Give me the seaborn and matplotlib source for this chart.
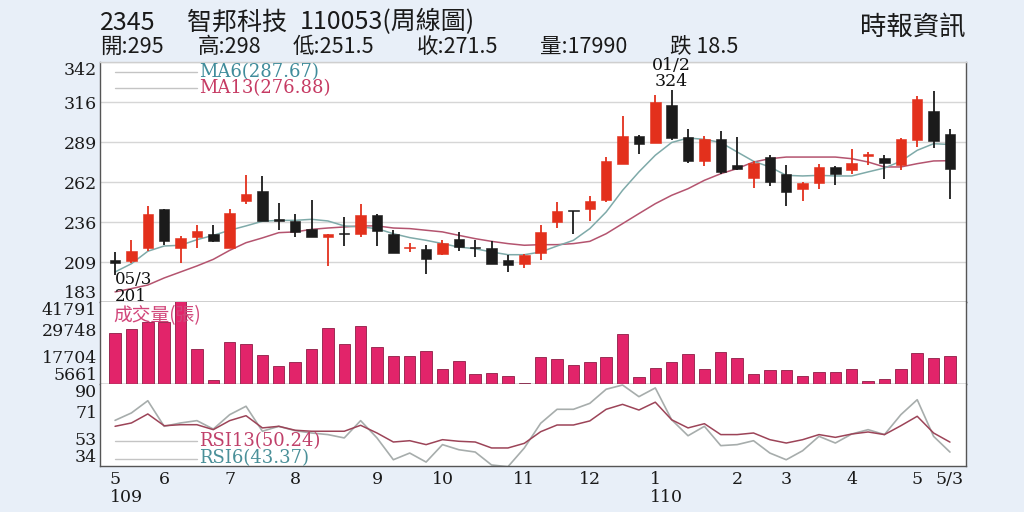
import numpy as np
import pandas as pd
import matplotlib
matplotlib.use("Agg")
import matplotlib.pyplot as plt
import seaborn as sns
from matplotlib.lines import Line2D

# ---------------- data (weekly, 109/05 .. 110/05/03) ----------------
weeks = list(range(52))
opens = [211, 210, 219, 244.5, 219, 226, 228, 219, 250, 256.5,
         237.2, 236.7, 231.6, 226, 228.5, 227.8, 241, 228.2, 218.7, 217.8,
         214.5, 224.5, 218.9, 218.7, 211, 208, 215.6, 236, 243.4, 244.5,
         251, 274.5, 293.6, 289, 313.8, 293, 277, 291.6, 273.8, 265.4,
         279.3, 267.8, 258.2, 262.2, 273, 270.5, 280.3, 279, 273.8, 290.5,
         310, 295]
highs = [216, 224, 247, 245, 226.5, 234, 234, 245, 267.6, 266.7,
         249, 241.6, 251, 228, 239.4, 248, 241.6, 231, 222, 220.5,
         224.2, 229.4, 224, 223.4, 214, 214.5, 233.8, 249.4, 243.6, 253.4,
         279.3, 306.5, 293.8, 320.5, 324, 297.8, 293.1, 297, 293, 276.5,
         280.5, 273.8, 263, 274.5, 273.3, 284.5, 283, 280.5, 292, 320,
         323.4, 298]
lows = [201, 209, 217, 221, 209, 219, 223, 219, 248, 236.5,
        231, 226, 226, 206.7, 220, 226, 219.8, 215.6, 216, 201.6,
        214, 216.5, 212.7, 208, 202.7, 205.6, 211, 232, 227.8, 237,
        249.4, 274.5, 281.6, 289, 290.5, 275.6, 273.4, 268, 270.5, 259,
        260, 246.5, 250, 258, 261, 267.8, 274, 264.5, 270.5, 286,
        285.6, 251.5]
closes = [209, 216.7, 241.4, 223.4, 225.6, 230, 223.5, 242, 255, 236.7,
          237, 229.4, 226, 227.8, 228, 241, 229.8, 215.6, 219, 211.6,
          222.2, 219.4, 218.5, 208.2, 207.6, 214.2, 229.4, 243.4, 243.2, 249.8,
          277, 293.6, 287.8, 316, 292, 277, 291.6, 269.4, 271.6, 275.6,
          262.7, 256, 262.2, 273, 268.2, 275.6, 280.7, 275.6, 291.6, 318.2,
          290, 271.5]
volumes = [28400, 30150, 33070, 33070, 43000, 20970, 7560, 24320, 23300, 18490,
           13680, 15570, 20970, 30300, 23300, 31320, 22130, 18050, 17900, 20090,
           12510, 16010, 10330, 10760, 9300, 6100, 17470, 16590, 13970, 15570,
           17760, 27530, 9010, 12660, 15570, 18930, 12370, 19950, 17320, 10040,
           11930, 11930, 9300, 10910, 11200, 12370, 6970, 8140, 12220, 19220,
           17180, 17990]
ma6 = [202.7, 208.2, 216.5, 220, 220.5, 224.2, 227.1, 230.5, 233.4, 236.5,
       237.1, 237.1, 237.8, 236.7, 233.4, 232.7, 231.6, 228.2, 225.6, 223.8,
       221.6, 219.3, 218.2, 216, 214.2, 214.2, 216, 220, 223.8, 231.6,
       242.7, 257.1, 269.4, 280.5, 289, 292, 291.1, 289, 282.7, 276.5,
       272.7, 267.1, 266.7, 267.1, 266.7, 266.7, 269.4, 272, 276.5, 283.8,
       288.2, 287.67]
ma13 = [189.4, 191.6, 194, 198.7, 202.7, 206.7, 211.1, 217.1, 222.2, 225.4,
        228.9, 229.4, 231.1, 232, 232.7, 233.4, 233.4, 232, 231.6, 230.5,
        229.4, 227.1, 224.9, 223.1, 221.6, 220.5, 220.9, 220.9, 221.6, 223.1,
        228.2, 234.9, 241.6, 248.2, 253.8, 258.2, 263.8, 268.2, 271.6, 276,
        278.2, 279.3, 279.3, 279.3, 279.3, 278.2, 276, 272.7, 272.7, 274.9,
        276.7, 276.88]
rsi6 = [65.2, 70.3, 78.7, 61.1, 63.4, 65, 59.2, 69.1, 74.9, 57.7,
        61.1, 58.1, 56.5, 55.4, 53.1, 65, 53.1, 38.1, 42.7, 36.5,
        48.5, 45, 43.4, 34.5, 33.3, 46.2, 63.2, 72.8, 72.8, 76.9,
        86.6, 89.5, 81.5, 87.5, 65.6, 54.6, 61.1, 47.8, 48.5, 51.2,
        42.7, 38.1, 44.3, 54.2, 49.6, 55.8, 58.8, 55.4, 69.1, 79.4,
        54.2, 43.37]
rsi13 = [61.1, 63.4, 69.6, 61.5, 62.2, 62.2, 58.8, 65, 68.4, 60,
         61.1, 58.4, 57.7, 57.7, 57.7, 61.8, 56.5, 50.3, 51.2, 48.5,
         51.9, 50.8, 50.3, 46.2, 46.2, 49.4, 57.4, 62, 62, 64.8,
         72.8, 76.2, 72.3, 77.7, 65.6, 60, 62.9, 55.4, 55.4, 56.5,
         51.9, 49.6, 51.9, 55.4, 53.5, 55.8, 57.2, 55.4, 61.5, 68,
         56.5, 50.24]

price_ticks = [182.67, 209.33, 236, 262.67, 289.33, 316, 342.67]
price_labels = ['183', '209', '236', '262', '289', '316', '342']
vol_ticks = [5661, 17704, 29748, 41791]
vol_labels = ['5661', '17704', '29748', '41791']
rsi_ticks = [34, 52.67, 71.33, 90]
rsi_labels = ['34', '53', '71', '90']
month_pos = [0, 3, 7, 11, 16, 20, 25, 29, 33, 38, 41, 45, 49, 51]
month_labels = ['5', '6', '7', '8', '9', '10', '11', '12', '1', '2', '3', '4', '5', '5/3']

# ---------------- style ----------------
sns.set_style("white")
plt.rcParams['font.family'] = ['DejaVu Serif']
CJK = ['Noto Sans CJK TC', 'DejaVu Sans']

BG = '#e8eff8'
UP = '#e3301c'
DOWN = '#1b1b1b'
VOLC = '#e2246a'
MA6C = '#7faaa9'
MA13C = '#b4546f'
RSI6C = '#a7adac'
RSI13C = '#9c4458'
FRAME = '#555555'

W, H = 1024, 512
fig = plt.figure(figsize=(W / 100, H / 100), dpi=100, facecolor=BG)


def fx(x):
    return x / W


def fy(y):
    return 1 - y / H


L, R = 100, 966
ax_p = fig.add_axes([fx(L), fy(302), (R - L) / W, (302 - 62) / H])
ax_v = fig.add_axes([fx(L), fy(384.3), (R - L) / W, (384.3 - 302) / H], sharex=ax_p)
ax_r = fig.add_axes([fx(L), fy(465.7), (R - L) / W, (465.7 - 384.3) / H], sharex=ax_p)

df = pd.DataFrame(dict(week=weeks, open=opens, high=highs, low=lows, close=closes,
                       vol=volumes, ma6=ma6, ma13=ma13, rsi6=rsi6, rsi13=rsi13))

# ---------------- price panel ----------------
up = df['close'] >= df['open']
cols = np.where(up, UP, DOWN)
body_lo = np.minimum(df['open'], df['close'])
body_h = np.maximum((df['close'] - df['open']).abs(), 0.9)

sns.lineplot(data=df, x='week', y='ma13', ax=ax_p, color=MA13C, lw=1.1, zorder=2)
sns.lineplot(data=df, x='week', y='ma6', ax=ax_p, color=MA6C, lw=1.1, zorder=2)
ax_p.vlines(df['week'], df['low'], df['high'], colors=cols, lw=1.3, zorder=3)
ax_p.bar(df['week'], body_h, bottom=body_lo, width=0.64, color=cols,
         edgecolor=cols, lw=0.4, zorder=4)

ax_p.set_ylim(price_ticks[0], price_ticks[-1])
ax_p.set_yticks(price_ticks)
ax_p.set_yticklabels(price_labels)
ax_p.grid(axis='y', color='#d6d6d6', lw=1.0)
ax_p.set_axisbelow(True)

# ---------------- volume panel ----------------
sns.barplot(data=df, x='week', y='vol', native_scale=True, color=VOLC,
            saturation=1, errorbar=None, width=0.7, edgecolor='#8e1d45',
            linewidth=0.6, ax=ax_v)
ax_v.set_ylim(vol_ticks[0], vol_ticks[-1])
ax_v.set_yticks(vol_ticks)
ax_v.set_yticklabels(vol_labels)

# ---------------- RSI panel ----------------
sns.lineplot(data=df, x='week', y='rsi6', ax=ax_r, color=RSI6C, lw=1.2)
sns.lineplot(data=df, x='week', y='rsi13', ax=ax_r, color=RSI13C, lw=1.1)
ax_r.set_ylim(rsi_ticks[0], rsi_ticks[-1])
ax_r.set_yticks(rsi_ticks)
ax_r.set_yticklabels(rsi_labels)

# ---------------- shared formatting ----------------
for ax in (ax_p, ax_v, ax_r):
    ax.set_facecolor('white')
    ax.set_xlabel('')
    ax.set_ylabel('')
    ax.tick_params(axis='y', length=0, pad=2, labelsize=12.5, labelcolor='#1a1a1a')
    for s in ax.spines.values():
        s.set_color(FRAME)
        s.set_linewidth(1.0)
    labs = ax.get_yticklabels()
    labs[0].set_verticalalignment('bottom')
    labs[-1].set_verticalalignment('top')

ax_p.spines['top'].set_color('#cfcfcf')
ax_v.spines['top'].set_visible(False)
ax_r.spines['top'].set_visible(False)
ax_p.spines['bottom'].set_color('#333333')

ax_r.set_xlim(-0.92, 51.98)
ax_r.set_xticks(month_pos)
ax_r.set_xticklabels(month_labels)
ax_r.set_xticks(weeks, minor=True)
ax_r.tick_params(axis='x', which='both', direction='in', length=3, color='#777777',
                 labelsize=12.5, pad=4, labelcolor='#1a1a1a')
ax_p.tick_params(axis='x', which='both', labelbottom=False, length=0)
ax_v.tick_params(axis='x', which='both', labelbottom=False, length=0)

# ---------------- annotations ----------------
SERIF = 'DejaVu Serif'
fig.text(fx(110), fy(497), '109', ha='left', va='center', fontsize=12.5, family=SERIF, color='#1a1a1a')
fig.text(fx(650), fy(497), '110', ha='left', va='center', fontsize=12.5, family=SERIF, color='#1a1a1a')

for yy in (71.7, 88.3, 441.3, 458.7):
    fig.add_artist(Line2D([fx(115), fx(197)], [fy(yy), fy(yy)], color='#c4c4c4', lw=1.0))

fig.text(fx(199), fy(72), 'MA6(287.67)', ha='left', va='center', fontsize=13, family=SERIF, color='#3f8c9b')
fig.text(fx(199), fy(88), 'MA13(276.88)', ha='left', va='center', fontsize=13, family=SERIF, color='#c63a63')
fig.text(fx(199), fy(441), 'RSI13(50.24)', ha='left', va='center', fontsize=13, family=SERIF, color='#c0406a')
fig.text(fx(199), fy(458), 'RSI6(43.37)', ha='left', va='center', fontsize=13, family=SERIF, color='#4a9099')

fig.text(fx(671), fy(65), '01/2', ha='center', va='center', fontsize=12.5, family=SERIF, color='#111111')
fig.text(fx(671), fy(82), '324', ha='center', va='center', fontsize=12.5, family=SERIF, color='#111111')
fig.text(fx(115), fy(280), '05/3', ha='left', va='center', fontsize=12, family=SERIF, color='#111111')
fig.text(fx(115), fy(296.5), '201', ha='left', va='center', fontsize=12, family=SERIF, color='#111111')

fig.text(fx(113), fy(315.5), '成交量(張)', ha='left', va='center', fontsize=13.5, family=CJK, color='#d1467a')

# title lines
for s, x in [('2345', 100), ('智邦科技', 187), ('110053(周線圖)', 300)]:
    fig.text(fx(x), fy(22.5), s, ha='left', va='center', fontsize=18, family=CJK, color='#1a1a1a')
for s, x in [('開:295', 100), ('高:298', 198), ('低:251.5', 293), ('收:271.5', 417),
             ('量:17990', 540), ('跌 18.5', 670)]:
    fig.text(fx(x), fy(47), s, ha='left', va='center', fontsize=15.5, family=CJK, color='#1a1a1a')
fig.text(fx(965), fy(27), '時報資訊', ha='right', va='center', fontsize=19, family=CJK, color='#1a1a1a')

fig.savefig('out.png', dpi=100, facecolor=BG)
